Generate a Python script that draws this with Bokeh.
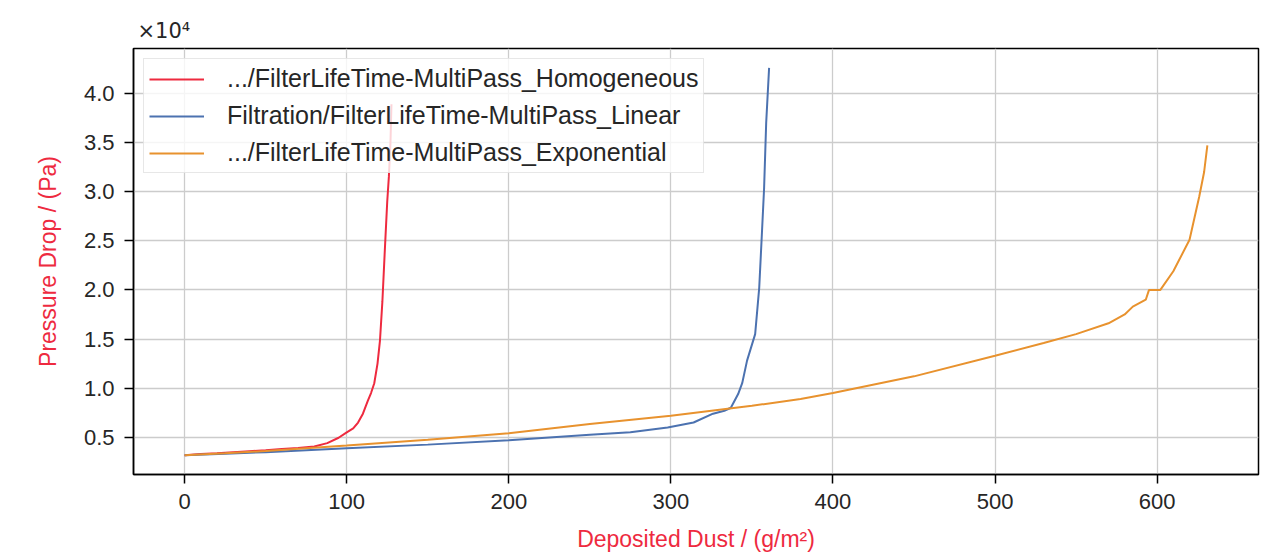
from bokeh.plotting import figure
from bokeh.models import Range1d, FixedTicker, Legend, LegendItem
from bokeh.embed import file_html
from bokeh.resources import INLINE

# ---- data ----
homog_x = [0, 10, 20, 30, 40, 50, 60, 70, 80, 88, 95, 100, 104, 107, 110, 113, 115, 117,
           119, 120.5, 122, 123.5, 125, 126, 127, 127.6]
homog_y = [3180, 3300, 3380, 3480, 3580, 3680, 3800, 3900, 4050, 4400, 4950, 5500, 5900,
           6500, 7400, 8700, 9500, 10500, 12500, 14800, 18800, 24000, 29000, 31500, 35000, 38900]

linear_x = [0, 25, 50, 75, 100, 150, 200, 250, 275, 298, 314, 326, 333, 337, 341.5, 344,
            347, 352, 354.5, 356, 357.5, 358.8, 360.6]
linear_y = [3180, 3330, 3480, 3680, 3890, 4250, 4700, 5250, 5500, 6000, 6500, 7400, 7700,
            8000, 9400, 10500, 12800, 15500, 20200, 25200, 30300, 37000, 42600]

expo_x = [0, 25, 50, 75, 100, 150, 200, 250, 300, 335, 350, 380, 400, 450, 500, 530, 550,
          570, 580, 585, 593, 595, 602, 610, 620, 626, 629, 631]
expo_y = [3180, 3380, 3600, 3870, 4150, 4750, 5400, 6350, 7200, 7900, 8200, 8900, 9500,
          11200, 13300, 14600, 15500, 16600, 17500, 18300, 19000, 20000, 20000, 21900,
          25100, 29500, 32000, 34700]

series_names = [".../FilterLifeTime-MultiPass_Homogeneous",
                "Filtration/FilterLifeTime-MultiPass_Linear",
                ".../FilterLifeTime-MultiPass_Exponential"]
series_colors = ["#ee2a3f", "#4c72b0", "#e8922e"]

x_ticks = [0, 100, 200, 300, 400, 500, 600]
y_ticks = [5000, 10000, 15000, 20000, 25000, 30000, 35000, 40000]
y_tick_labels = ["0.5", "1.0", "1.5", "2.0", "2.5", "3.0", "3.5", "4.0"]

x_title = "Deposited Dust / (g/m²)"
y_title = "Pressure Drop / (Pa)"
exponent = "×10⁴"

# ---- ranges with 5% padding ----
all_x = homog_x + linear_x + expo_x
all_y = homog_y + linear_y + expo_y
xpad = 0.05 * (max(all_x) - min(all_x))
ypad = 0.05 * (max(all_y) - min(all_y))

TEXT = "#262626"
RED = "#ee2a3f"

p = figure(width=1268, height=560, output_backend="svg", toolbar_location=None,
           x_range=Range1d(min(all_x) - xpad, max(all_x) + xpad),
           y_range=Range1d(min(all_y) - ypad, max(all_y) + ypad),
           min_border_left=133, min_border_right=10, min_border_top=48,
           min_border_bottom=86)
p.background_fill_color = "white"
p.border_fill_color = "white"
p.outline_line_color = "black"
p.outline_line_width = 1.5

p.title.text = exponent
p.title.text_font = "DejaVu Sans"
p.title.text_font_size = "21px"
p.title.text_font_style = "normal"
p.title.text_color = TEXT
p.title.align = "left"
p.title.offset = 4
p.title.standoff = 12

for ax in (p.xaxis, p.yaxis):
    ax.axis_line_color = "black"
    ax.axis_line_width = 1.5
    ax.major_tick_line_color = "black"
    ax.major_tick_line_width = 1.5
    ax.major_tick_out = 9
    ax.major_tick_in = 0
    ax.minor_tick_line_color = None
    ax.major_label_text_font = "Liberation Sans"
    ax.major_label_text_font_size = "22px"
    ax.major_label_text_color = TEXT
    ax.major_label_standoff = 10
    ax.axis_label_text_font = "Liberation Sans"
    ax.axis_label_text_font_size = "23px"
    ax.axis_label_text_font_style = "normal"
    ax.axis_label_text_color = RED

p.xaxis.axis_label = x_title
p.xaxis.axis_label_standoff = 14
p.yaxis.axis_label = y_title
p.yaxis.axis_label_standoff = 20

p.xaxis.ticker = FixedTicker(ticks=x_ticks)
p.yaxis.ticker = FixedTicker(ticks=y_ticks)
p.yaxis.major_label_overrides = {t: s for t, s in zip(y_ticks, y_tick_labels)}

p.grid.grid_line_color = "#cccccc"
p.grid.grid_line_width = 1.3

r1 = p.line(homog_x, homog_y, line_color=series_colors[0], line_width=2)
r2 = p.line(linear_x, linear_y, line_color=series_colors[1], line_width=2)
r3 = p.line(expo_x, expo_y, line_color=series_colors[2], line_width=2)

legend = Legend(items=[LegendItem(label=series_names[0], renderers=[r1]),
                       LegendItem(label=series_names[1], renderers=[r2]),
                       LegendItem(label=series_names[2], renderers=[r3])],
                location="top_left", margin=10, padding=5, spacing=8,
                glyph_width=55, glyph_height=26, label_height=26, label_standoff=23,
                label_text_font="Liberation Sans", label_text_font_size="25px",
                label_text_color=TEXT,
                border_line_color="#d0d0d0", border_line_width=1.3,
                background_fill_color="white", background_fill_alpha=0.8)
p.add_layout(legend)

open("out.html", "w").write(file_html(p, INLINE))
